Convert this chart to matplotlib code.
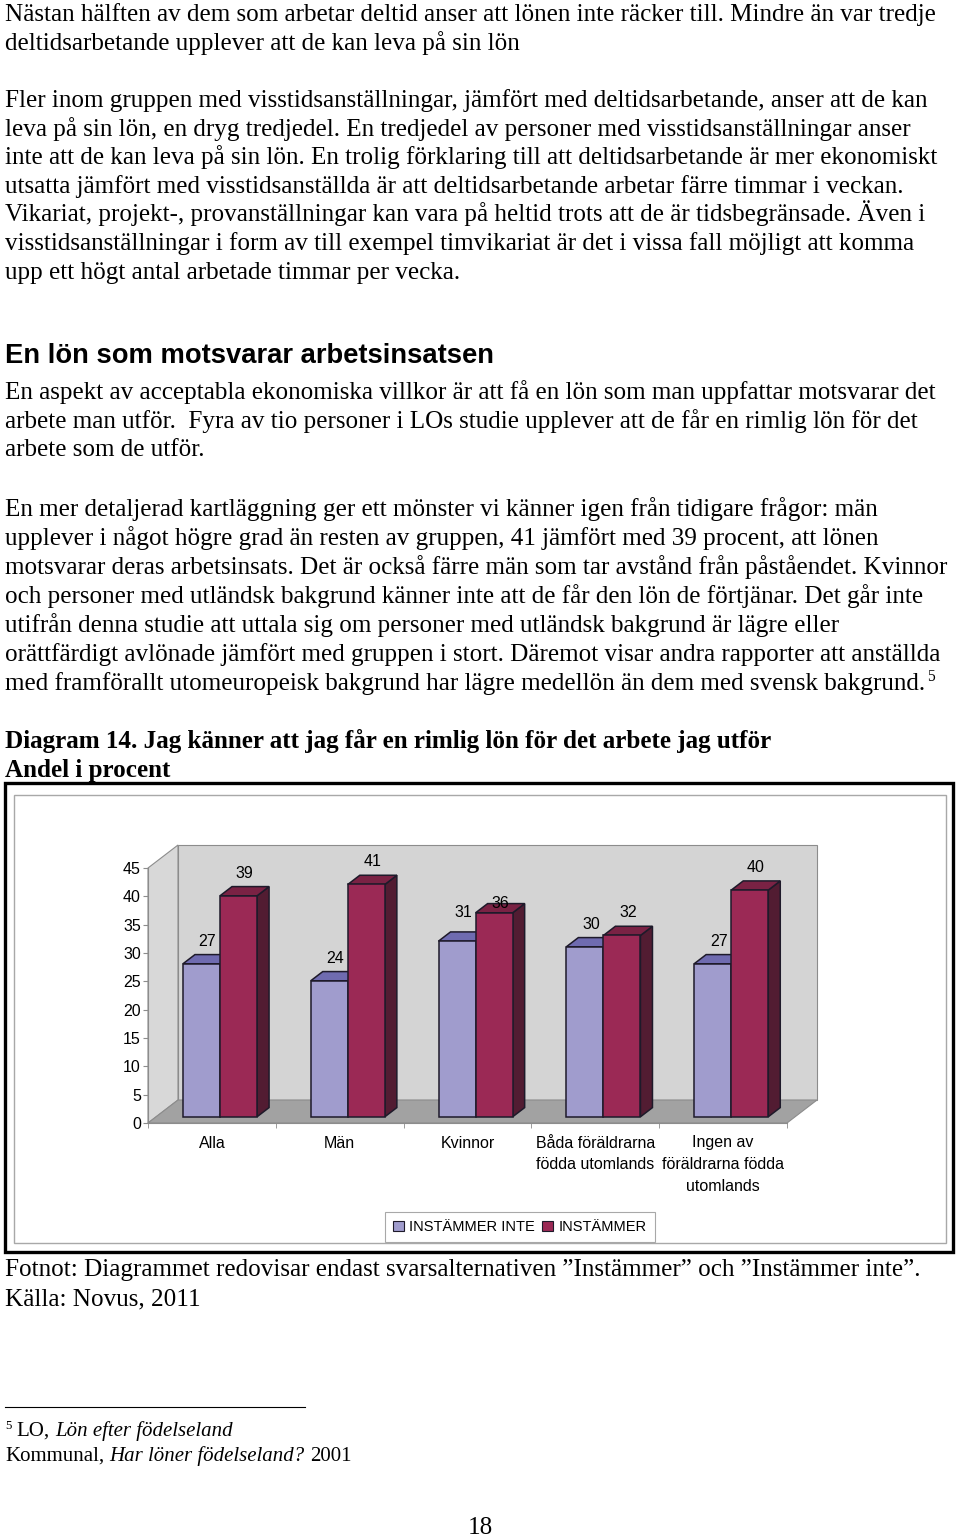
import numpy as np
import matplotlib
matplotlib.use('Agg')
import matplotlib.pyplot as plt
from matplotlib.patches import Polygon, Rectangle

SERIF = 'Liberation Serif'
SANS = 'Liberation Sans'
plt.rcParams['font.family'] = [SANS, 'DejaVu Sans']

# --- chart data ---
categories = ['Alla', 'Män', 'Kvinnor', 'Båda föräldrarna\nfödda utomlands',
              'Ingen av\nföräldrarna födda\nutomlands']
instammer_inte = [27, 24, 31, 30, 27]
instammer = [39, 41, 36, 32, 40]
series_names = ['INSTÄMMER INTE', 'INSTÄMMER']
y_ticks = [0, 5, 10, 15, 20, 25, 30, 35, 40, 45]

# --- page text ---
para1 = ['Nästan hälften av dem som arbetar deltid anser att lönen inte räcker till. Mindre än var tredje',
         'deltidsarbetande upplever att de kan leva på sin lön']
para2 = ['Fler inom gruppen med visstidsanställningar, jämfört med deltidsarbetande, anser att de kan',
         'leva på sin lön, en dryg tredjedel. En tredjedel av personer med visstidsanställningar anser',
         'inte att de kan leva på sin lön. En trolig förklaring till att deltidsarbetande är mer ekonomiskt',
         'utsatta jämfört med visstidsanställda är att deltidsarbetande arbetar färre timmar i veckan.',
         'Vikariat, projekt-, provanställningar kan vara på heltid trots att de är tidsbegränsade. Även i',
         'visstidsanställningar i form av till exempel timvikariat är det i vissa fall möjligt att komma',
         'upp ett högt antal arbetade timmar per vecka.']
heading = 'En lön som motsvarar arbetsinsatsen'
para3 = ['En aspekt av acceptabla ekonomiska villkor är att få en lön som man uppfattar motsvarar det',
         'arbete man utför.  Fyra av tio personer i LOs studie upplever att de får en rimlig lön för det',
         'arbete som de utför.']
para4 = ['En mer detaljerad kartläggning ger ett mönster vi känner igen från tidigare frågor: män',
         'upplever i något högre grad än resten av gruppen, 41 jämfört med 39 procent, att lönen',
         'motsvarar deras arbetsinsats. Det är också färre män som tar avstånd från påståendet. Kvinnor',
         'och personer med utländsk bakgrund känner inte att de får den lön de förtjänar. Det går inte',
         'utifrån denna studie att uttala sig om personer med utländsk bakgrund är lägre eller',
         'orättfärdigt avlönade jämfört med gruppen i stort. Däremot visar andra rapporter att anställda',
         'med framförallt utomeuropeisk bakgrund har lägre medellön än dem med svensk bakgrund.']
title_lines = ['Diagram 14. Jag känner att jag får en rimlig lön för det arbete jag utför',
               'Andel i procent']
note_lines = ['Fotnot: Diagrammet redovisar endast svarsalternativen \u201dInstämmer\u201d och \u201dInstämmer inte\u201d.',
              'Källa: Novus, 2011']

fig = plt.figure(figsize=(9.6, 15.4), dpi=100)
page = fig.add_axes([0, 0, 1, 1])
page.set_xlim(0, 960)
page.set_ylim(1540, 0)
page.axis('off')
renderer = fig.canvas.get_renderer()


def text_width(s, size, **kw):
    t = page.text(0, 0, s, fontsize=size, **kw)
    w = t.get_window_extent(renderer).width
    t.remove()
    return w


def fit(s, target, **kw):
    return 20 * target / text_width(s, 20, **kw)


body = fit(para2[0], 927, family=SERIF)
head = fit(heading, 487, family=SANS, weight='bold')
tsize = fit(title_lines[0], 770, family=SERIF, weight='bold')
small = body * 0.83


def line(y, s, size=body, **kw):
    kw.setdefault('family', SERIF)
    page.text(5, y, s, fontsize=size, va='baseline', ha='left', **kw)


def runs(x, y, parts):
    # parts: (text, size, style, raise)
    for s, size, style, up in parts:
        t = page.text(x, y - up, s, fontsize=size, family=SERIF, style=style,
                      va='baseline', ha='left')
        x += t.get_window_extent(renderer).width


sps = text_width('a a', small, family=SERIF) - text_width('aa', small, family=SERIF)

base_off = 7
for i, s in enumerate(para1):
    line(14 + base_off + i * 28.6, s)
for i, s in enumerate(para2):
    line(100 + base_off + i * 28.6, s)
page.text(5, 355 + 8, heading, fontsize=head, family=SANS, weight='bold', va='baseline')
for i, s in enumerate(para3):
    line(392 + base_off + i * 28.7, s)
for i, s in enumerate(para4[:-1]):
    line(509 + base_off + i * 29, s)
y_last = 509 + base_off + 6 * 29
t = page.text(5, y_last, para4[-1], fontsize=body, family=SERIF, va='baseline')
xe = 5 + t.get_window_extent(renderer).width
page.text(xe + 2, y_last - 9, '5', fontsize=body * 0.62, family=SERIF, va='baseline')

for i, s in enumerate(title_lines):
    page.text(5, 741 + base_off + i * 29, s, fontsize=tsize, family=SERIF, weight='bold', va='baseline')

for i, s in enumerate(note_lines):
    line(1269 + base_off + i * 29, s)

# footnote
page.plot([5, 305], [1407, 1407], color='black', lw=0.8)
runs(5, 1436, [('5', small * 0.62, 'normal', 7)])
x0 = 5 + text_width('5', small * 0.62, family=SERIF) + sps
runs(x0, 1436, [('LO,', small, 'normal', 0)])
x1 = x0 + text_width('LO,', small, family=SERIF) + sps
runs(x1, 1436, [('Lön efter födelseland', small, 'italic', 0)])
x2 = 5
runs(x2, 1461, [('Kommunal,', small, 'normal', 0)])
x3 = x2 + text_width('Kommunal,', small, family=SERIF) + sps
runs(x3, 1461, [('Har löner födelseland?', small, 'italic', 0)])
x4 = x3 + text_width('Har löner födelseland?', small, family=SERIF, style='italic') + sps
runs(x4, 1461, [('2001', small, 'normal', 0)])

page.text(480, 1528, '18', fontsize=body, family=SERIF, ha='center', va='center')

# chart frame
page.add_patch(Rectangle((5, 783), 948, 469, fill=False, ec='black', lw=2.4))
page.add_patch(Rectangle((14, 795), 932, 448, fill=False, ec='#a8a8a8', lw=1))

# --- chart ---
ax = fig.add_axes([148 / 960, 1 - 1123 / 1540, 639 / 960, 255 / 1540])
ax.set_xlim(-0.5, 4.5)
ax.set_ylim(0, 45)
ax.patch.set_visible(False)
for k in ['top', 'right']:
    ax.spines[k].set_visible(False)
for k in ['left', 'bottom']:
    ax.spines[k].set_color('#8c8c8c')
    ax.spines[k].set_linewidth(0.8)

DX = 30 / 127.8
DY = 23 / (255 / 45)
z0, z1 = 0.27, 0.67
w = 0.29
d, e = (z1 - z0) * DX, (z1 - z0) * DY

wall_kw = dict(ec='#8c8c8c', lw=0.8, clip_on=False, zorder=1)
ax.add_patch(Polygon([(-0.5 + DX, DY), (4.5 + DX, DY), (4.5 + DX, 45 + DY), (-0.5 + DX, 45 + DY)],
                     fc='#d4d4d4', **wall_kw))
ax.add_patch(Polygon([(-0.5, 0), (-0.5, 45), (-0.5 + DX, 45 + DY), (-0.5 + DX, DY)],
                     fc='#d8d8d8', **wall_kw))
ax.add_patch(Polygon([(-0.5, 0), (4.5, 0), (4.5 + DX, DY), (-0.5 + DX, DY)],
                     fc='#a2a2a2', **wall_kw))

styles = [('#a09ccd', '#6f6bb0', '#55528a'), ('#9b2955', '#7a2244', '#521c32')]
label_nudge = {(2, 0): 1.1, (2, 1): -2.3}
edge = '#1e1a2a'
for k, (vals, (fc, cc, sc)) in enumerate(zip([instammer_inte, instammer], styles)):
    xs = np.arange(len(vals)) + (k - 0.5) * w + z0 * DX
    zb = 2 + 2 * k
    bars = ax.bar(xs, vals, w, bottom=z0 * DY, color=fc, edgecolor=edge, lw=1.1,
                  zorder=zb + 1, clip_on=False)
    for i, (r, v) in enumerate(zip(bars, vals)):
        xa, ya = r.get_x(), r.get_y()
        xb, yb = xa + r.get_width(), ya + r.get_height()
        ax.add_patch(Polygon([(xb, ya), (xb, yb), (xb + d, yb + e), (xb + d, ya + e)],
                             fc=sc, ec=edge, lw=1.1, zorder=zb, clip_on=False))
        ax.add_patch(Polygon([(xa, yb), (xb, yb), (xb + d, yb + e), (xa + d, yb + e)],
                             fc=cc, ec=edge, lw=1.1, zorder=zb, clip_on=False))
        ax.text((xa + xb) / 2 + d / 2, yb + 4.0 + label_nudge.get((i, k), 0), str(v),
                ha='center', va='center', fontsize=11.5, zorder=10)

ax.set_yticks(y_ticks)
ax.tick_params(axis='y', direction='out', length=3.6, color='#8c8c8c', labelsize=11.5, pad=1.5)
ax.set_xticks(range(len(categories)))
ax.set_xticklabels(categories, fontsize=11.5, linespacing=1.55)
ax.tick_params(axis='x', which='major', length=0, pad=9)
ax.set_xticks(np.arange(-0.5, len(categories), 1), minor=True)
ax.tick_params(axis='x', which='minor', direction='out', length=3.6, color='#8c8c8c')

handles = [Rectangle((0, 0), 1, 1, fc=s[0], ec=edge, lw=0.8) for s in styles]
leg = fig.legend(handles, series_names, loc='center', bbox_to_anchor=(520 / 960, 1 - 1227 / 1540),
                 ncol=2, fancybox=False, edgecolor='#a8a8a8', framealpha=1,
                 prop={'family': SANS, 'size': 10.5}, handlelength=0.7, handleheight=0.7,
                 handletextpad=0.4, columnspacing=0.5, borderpad=0.55)
leg.get_frame().set_linewidth(0.8)

fig.savefig('out.png', dpi=100)
